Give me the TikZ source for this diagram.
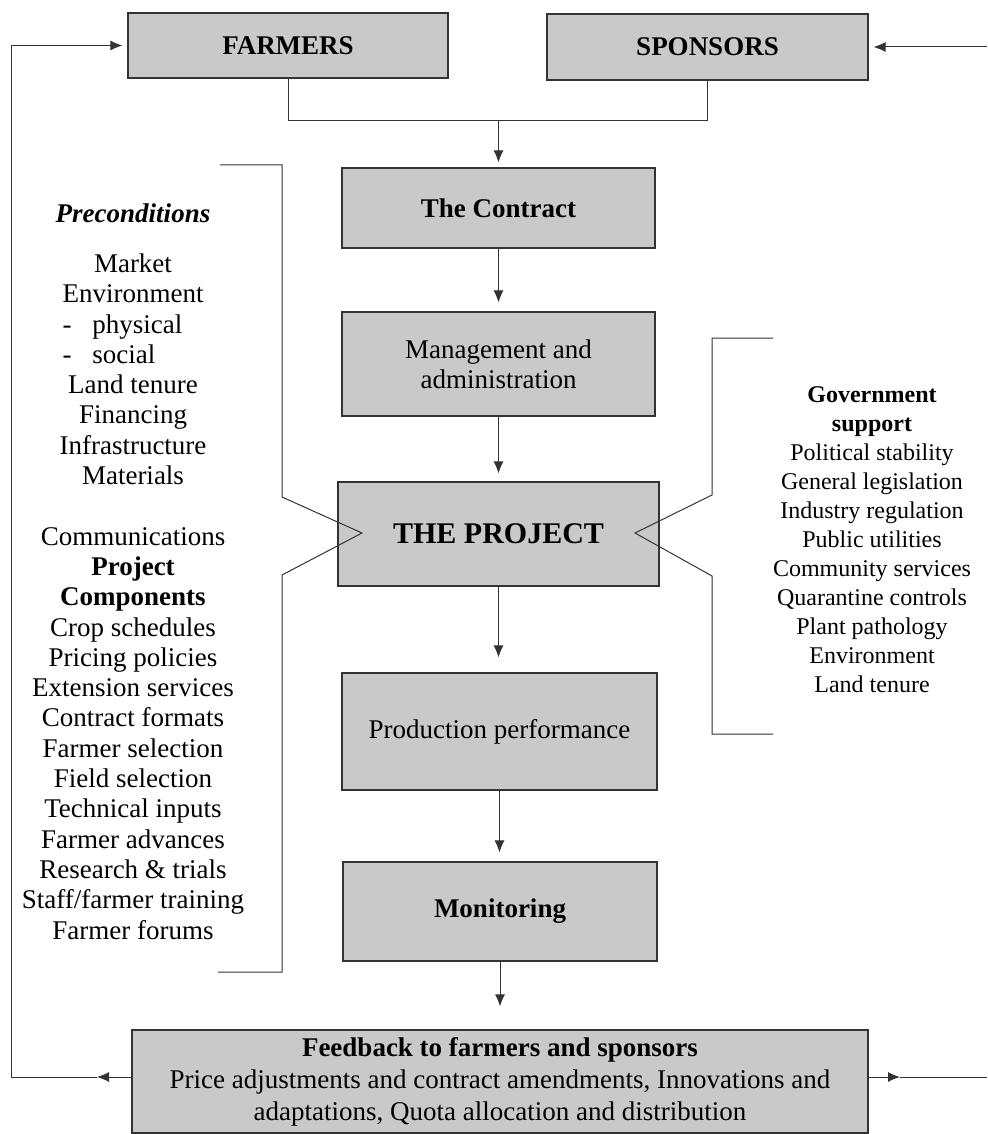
\documentclass[tikz,border=0pt]{standalone}
\usepackage{fontspec}
\setmainfont{Liberation Serif}
\usepackage{calc}
\usetikzlibrary{arrows.meta}

\begin{document}
\begin{tikzpicture}[x=1pt,y=-1pt,
  box/.style={draw=black!80, line width=1.1pt, fill=black!21, inner sep=0pt, align=center},
  conn/.style={draw=black!80, line width=1pt},
  arr/.style={conn, -{Latex[length=12pt,width=10pt]}},
  txt/.style={align=center, inner sep=0pt},
  boxfont/.style={font=\fontsize{27}{30}\selectfont},
  boldfont/.style={font=\bfseries\fontsize{27}{30}\selectfont},
]
\useasboundingbox (0,0) rectangle (987,1134);

% --- flow boxes ---
\node[box, boldfont, minimum width=320pt, minimum height=65pt] (farmers) at (288,45.5) {FARMERS};
\node[box, boldfont, minimum width=321pt, minimum height=66pt] (sponsors) at (707.5,47) {SPONSORS};
\node[box, boldfont, minimum width=313pt, minimum height=80pt] (contract) at (498.5,208) {The Contract};
\node[box, boxfont, minimum width=313pt, minimum height=104pt] (mgmt) at (498.5,364) {Management and\\administration};
\node[box, font=\bfseries\fontsize{30}{34}\selectfont, minimum width=321pt, minimum height=104pt] (project) at (498.5,534) {THE PROJECT};
\node[box, boxfont, minimum width=315pt, minimum height=117pt] (prod) at (499.5,731.5) {Production performance};
\node[box, boldfont, minimum width=314pt, minimum height=99pt] (monitor) at (500,911.5) {Monitoring};
\node[box, font=\fontsize{27}{32}\selectfont, minimum width=736pt, minimum height=103pt] (fb) at (500,1081.5)
  {\textbf{Feedback to farmers and sponsors}\\Price adjustments and contract amendments, Innovations and\\adaptations, Quota allocation and distribution};

% --- joining farmers and sponsors into the contract ---
\coordinate (merge) at (498.5,121);
\draw[conn] (farmers.south) |- (merge);
\draw[conn] (sponsors.south) |- (merge);
\draw[arr, shorten >=5pt] (merge) -- (contract.north);

% --- main column ---
\draw[arr, shorten >=9pt] (contract.south) -- (mgmt.north);
\draw[arr, shorten >=8pt] (mgmt.south) -- (project.north);
\draw[arr, shorten >=15pt] (project.south) -- (project.south |- prod.north);
\draw[arr, shorten >=9pt] (prod.south) -- (prod.south |- monitor.north);
\draw[arr, shorten >=23pt] (monitor.south) -- (fb.north);

% --- feedback loops ---
\coordinate (fbl) at (97,1077);
\coordinate (fbr) at (900,1077);
\coordinate (edgeR) at (987,1077);
\coordinate (edgeRtop) at (987,47);
\draw[arr] ([yshift=4.5pt]fb.west) -- (fbl);
\draw[arr, shorten >=5pt] (fbl) -- (11,1077) |- (farmers.west);
\draw[arr] ([yshift=4.5pt]fb.east) -- (fbr);
\draw[conn] (fbr) -- (edgeR);
\draw[arr, shorten >=5pt] (edgeRtop) -- (sponsors.east);

% --- brackets pointing into the project ---
\draw[conn] (220,165) -- (282,165) -- (282,497) -- (362,533) -- (282,575) -- (282,972) -- (218,972);
\draw[conn] (773,338) -- (712,338) -- (712,495) -- (635,533) -- (712,576) -- (712,734) -- (773,734);

% --- preconditions and project components ---
\node[txt, font=\bfseries\itshape\fontsize{27}{30}\selectfont] (precond) at (133,213) {Preconditions};
\node[txt, font=\fontsize{27}{30.3}\selectfont] (leftlist) at (133,596.5)
  {Market\\Environment\\
   \makebox[\widthof{Environment}][l]{-\hspace{21pt}physical}\\
   \makebox[\widthof{Environment}][l]{-\hspace{21pt}social}\\
   Land tenure\\Financing\\Infrastructure\\Materials\\[30.3pt]
   Communications\\\textbf{Project}\\\textbf{Components}\\Crop schedules\\Pricing policies\\
   Extension services\\Contract formats\\Farmer selection\\Field selection\\Technical inputs\\
   Farmer advances\\Research \& trials\\Staff/farmer training\\Farmer forums};

% --- government support ---
\node[txt, font=\fontsize{24}{29}\selectfont] (govlist) at (872,540)
  {\textbf{Government}\\\textbf{support}\\Political stability\\General legislation\\Industry regulation\\
   Public utilities\\Community services\\Quarantine controls\\Plant pathology\\Environment\\Land tenure};
\end{tikzpicture}
\end{document}
